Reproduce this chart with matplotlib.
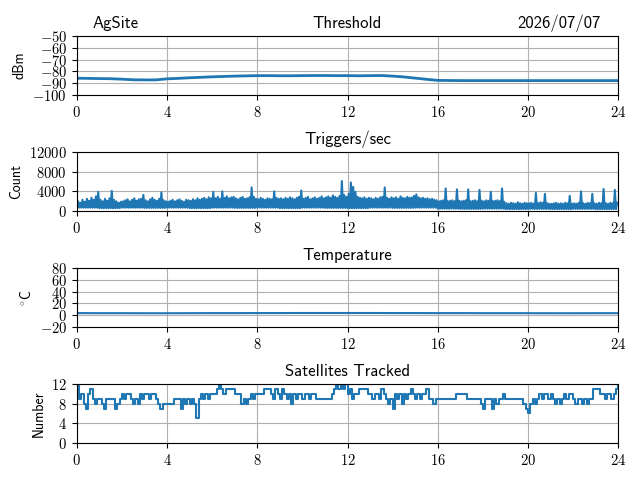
import numpy as np
import matplotlib
matplotlib.use('Agg')
import matplotlib.pyplot as plt
from matplotlib.ticker import FuncFormatter

# 图表数据
site = 'AgSite'
date = '2026/07/07'
hour_ticks = [0, 4, 8, 12, 16, 20, 24]

# 门限，每半小时一个值 (dBm)
thr_hours = [0, 0.5, 1, 1.5, 2, 2.5, 3, 3.5, 4, 4.5, 5, 5.5, 6, 6.5, 7, 7.5, 8,
             8.5, 9, 9.5, 10, 10.5, 11, 11.5, 12, 12.5, 13, 13.5, 14, 14.5, 15,
             15.5, 16, 17, 18, 19, 20, 21, 22, 23, 24]
thr_dbm = [-85.7, -85.8, -86.0, -86.1, -86.5, -87.0, -87.1, -87.1, -86.2, -85.8,
           -85.3, -84.9, -84.5, -84.2, -83.9, -83.7, -83.5, -83.5, -83.6, -83.6,
           -83.5, -83.4, -83.4, -83.5, -83.5, -83.6, -83.5, -83.4, -83.9, -84.6,
           -85.6, -86.6, -87.5, -87.7, -87.7, -87.7, -87.7, -87.7, -87.7, -87.7,
           -87.7]

# 每秒触发数：每0.1小时的峰值，以及每小时的底值
trig_hi = [
    2000, 1700, 2300, 1900, 2500, 2100, 2700, 2300, 3000, 3900,
    2300, 2000, 2500, 2100, 2600, 4100, 2300, 2000, 1700, 1900,
    2000, 2200, 2400, 2000, 2300, 2600, 2100, 2400, 2500, 3300,
    2200, 2000, 2400, 2700, 2300, 2100, 2500, 3800, 2200, 2000,
    1900, 2100, 2300, 2000, 2200, 2400, 2100, 1900, 2300, 2200,
    2100, 2400, 2200, 2600, 2300, 2500, 2700, 2400, 2800, 2600,
    3900, 2600, 2900, 2500, 4000, 2700, 3000, 2600, 2800, 2900,
    2600, 2400, 2700, 2900, 2500, 2600, 2800, 4800, 2900, 2500,
    2400, 2700, 2500, 2300, 2600, 2500, 2400, 4000, 2700, 2500,
    2600, 2400, 2700, 2500, 2800, 2600, 2400, 2700, 2900, 4200,
    2500, 2700, 2900, 2400, 2600, 2800, 2500, 2700, 3000, 2600,
    2800, 3000, 2700, 3200, 2900, 2700, 3100, 6100, 3300, 2900,
    3500, 5800, 4900, 3900, 2900, 2700, 2600, 2800, 2500, 2700,
    2600, 2400, 2700, 2500, 2800, 2900, 4800, 2700, 2500, 2800,
    2600, 2800, 2500, 3000, 2700, 2600, 2900, 2700, 2800, 3100,
    3400, 2800, 2600, 2700, 2500, 2600, 2400, 2500, 2300, 2200,
    2000, 2100, 2200, 4600, 2000, 2100, 2200, 2000, 4400, 2100,
    2000, 2100, 2200, 4400, 2000, 2100, 2200, 2000, 4300, 2100,
    2000, 2200, 2100, 3900, 2000, 2100, 2200, 2000, 4600, 1900,
    1600, 1500, 1700, 1600, 1500, 1800, 1600, 1500, 1700, 1600,
    1600, 1700, 1500, 3700, 1600, 1800, 1700, 3500, 1600, 1500,
    1500, 1600, 1700, 1500, 1600, 1500, 1700, 1600, 3100, 1500,
    1600, 1500, 1700, 4000, 1600, 1500, 1700, 1600, 3500, 1600,
    1500, 1700, 1600, 4500, 1600, 1500, 1700, 1600, 4300, 1700,
]
trig_lo = [700, 600, 700, 650, 700, 600, 700, 650, 700, 600, 700, 650,
           600, 700, 650, 700, 500, 450, 500, 400, 450, 400, 450, 400]

# 温度，每小时一个值 (°C)
temp_c = [3.6, 3.5, 3.5, 3.4, 3.4, 3.5, 3.6, 3.6, 3.7, 3.7, 3.8, 3.8, 3.8,
          3.8, 3.7, 3.7, 3.6, 3.6, 3.5, 3.5, 3.5, 3.4, 3.4, 3.5, 3.5]

# 跟踪卫星数，每0.1小时一个值
sats = [
    12, 9, 10, 8, 7, 10, 11, 9, 8, 9,
    9, 8, 7, 9, 9, 9, 9, 7, 8, 9,
    10, 9, 10, 10, 9, 8, 9, 8, 10, 9,
    10, 10, 9, 10, 10, 9, 8, 7, 8, 8,
    8, 8, 8, 9, 9, 9, 7, 9, 8, 9,
    8, 9, 8, 5, 9, 10, 9, 10, 9, 10,
    10, 10, 11, 12, 11, 10, 11, 11, 11, 11,
    10, 10, 10, 8, 9, 8, 9, 10, 9, 10,
    10, 10, 10, 11, 11, 11, 10, 9, 11, 10,
    9, 11, 10, 9, 10, 8, 10, 9, 10, 10,
    9, 10, 10, 9, 10, 10, 9, 9, 9, 9,
    9, 9, 9, 10, 11, 12, 11, 12, 11, 12,
    10, 11, 9, 10, 10, 11, 11, 11, 11, 10,
    10, 9, 10, 10, 9, 11, 10, 9, 8, 9,
    7, 10, 9, 10, 8, 10, 9, 10, 11, 10,
    9, 10, 9, 10, 10, 11, 9, 9, 8, 9,
    9, 9, 9, 9, 9, 9, 9, 9, 10, 10,
    10, 10, 10, 9, 9, 9, 9, 9, 9, 8,
    7, 9, 9, 9, 7, 9, 8, 9, 9, 10,
    9, 9, 9, 9, 9, 9, 9, 9, 8, 7,
    6, 8, 9, 8, 9, 10, 9, 10, 10, 9,
    10, 9, 8, 9, 8, 9, 10, 9, 10, 10,
    9, 8, 9, 9, 8, 9, 8, 9, 9, 11,
    11, 11, 10, 10, 9, 10, 10, 9, 10, 11,
    12,
]

# 字体：文字用 cmss10，刻度用 cm 数学字体
plt.rcParams['font.family'] = ['cmss10', 'DejaVu Sans']
plt.rcParams['mathtext.fontset'] = 'cm'
plt.rcParams['axes.unicode_minus'] = False

tick_fmt = FuncFormatter(lambda v, p: r'$\mathrm{%d}$' % v if v >= 0 else r'$-\mathrm{%d}$' % -v)

fig, axes = plt.subplots(4, 1, figsize=(6.4, 4.8), dpi=100)
plt.subplots_adjust(left=0.12, right=0.966, top=0.925, bottom=0.077, hspace=0.96)

# 触发数的折线：底值与峰值交替
n_hi = len(trig_hi)
trig_x = np.arange(2 * n_hi) * 24 / (2 * n_hi)
trig_y = np.column_stack([np.repeat(trig_lo, n_hi // len(trig_lo)), trig_hi]).ravel()

ax = axes[0]
ax.plot(thr_hours, thr_dbm, lw=2)
ax.set_ylim(-100, -50)
ax.set_yticks([-100, -90, -80, -70, -60, -50])
ax.set_ylabel('dBm')
ax.set_title('Threshold', fontsize=12)
ax.set_title(site, loc='left', x=0.03, fontsize=12)
ax.set_title(date, loc='right', x=0.967, fontsize=12)

ax = axes[1]
ax.plot(trig_x, trig_y, lw=1.5)
ax.set_ylim(0, 12000)
ax.set_yticks([0, 4000, 8000, 12000])
ax.set_ylabel('Count')
ax.set_title('Triggers/sec', fontsize=12)

ax = axes[2]
ax.plot(np.arange(len(temp_c)), temp_c, lw=1.5)
ax.set_ylim(-20, 80)
ax.set_yticks([-20, 0, 20, 40, 60, 80])
ax.set_ylabel(r'$^{\circ}\mathsf{C}$')
ax.set_title('Temperature', fontsize=12)

ax = axes[3]
ax.plot(np.arange(len(sats)) * 0.1, sats, lw=1.5, drawstyle='steps-post')
ax.set_ylim(0, 12)
ax.set_yticks([0, 4, 8, 12])
ax.set_ylabel('Number')
ax.set_title('Satellites Tracked', fontsize=12)

for ax in axes:
    ax.set_xlim(0, 24)
    ax.set_xticks(hour_ticks)
    ax.xaxis.set_major_formatter(tick_fmt)
    ax.yaxis.set_major_formatter(tick_fmt)
    ax.tick_params(labelsize=10.5)
    ax.grid(True)

plt.savefig('out.png')
